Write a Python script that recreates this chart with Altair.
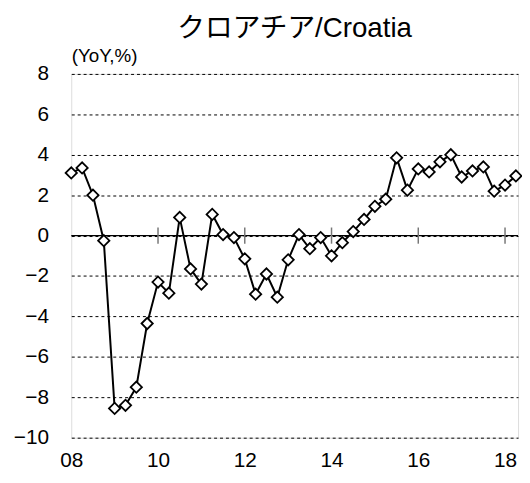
import altair as alt
import pandas as pd

title_text = "クロアチア/Croatia"
y_label = "(YoY,%)"
start_year = 2008
values = [3.1, 3.35, 2.0, -0.25, -8.55, -8.4, -7.5, -4.35, -2.3, -2.85,
          0.9, -1.65, -2.4, 1.05, 0.05, -0.1, -1.15, -2.9, -1.9, -3.05,
          -1.2, 0.05, -0.65, -0.1, -1.0, -0.35, 0.2, 0.8, 1.45, 1.8,
          3.85, 2.25, 3.3, 3.15, 3.65, 4.0, 2.9, 3.2, 3.4, 2.2,
          2.5, 2.95]
x_ticks = [2008, 2010, 2012, 2014, 2016, 2018]
y_ticks = [-10, -8, -6, -4, -2, 0, 2, 4, 6, 8]
inner_ticks = [2010, 2012, 2014, 2016, 2018]

df = pd.DataFrame({"t": [start_year + i * 0.25 for i in range(len(values))],
                   "v": values})
FONT = "Liberation Sans, Arial, Noto Sans CJK JP"

xscale = alt.Scale(domain=[2008, 2018.3], nice=False, zero=False)
yscale = alt.Scale(domain=[-10, 8], nice=False)

xax = alt.Axis(values=x_ticks, labelExpr="substring(toString(datum.value), 2)",
               grid=False, domain=False, ticks=False, labelFontSize=21,
               labelPadding=12, labelColor="black", labelFont=FONT, title=None,
               labelFlush=False)
yax = alt.Axis(values=y_ticks, grid=True, gridDash=[3, 3], gridColor="black",
               gridWidth=1, gridOpacity=1, domain=False, ticks=False,
               labelFontSize=21, labelPadding=23, labelColor="black", labelFont=FONT,
               title=y_label, titleAngle=0, titleAlign="left", titleBaseline="alphabetic",
               titleX=0, titleY=-13, titleFontSize=19, titleFontWeight="normal",
               titleFont=FONT, titleColor="black")

base = alt.Chart(df)
line = base.mark_line(color="black", strokeWidth=2).encode(
    x=alt.X("t:Q", scale=xscale, axis=xax),
    y=alt.Y("v:Q", scale=yscale, axis=yax),
)
pts = base.mark_point(shape="diamond", filled=True, fill="white", stroke="black",
                      strokeWidth=1.8, size=130, opacity=1).encode(
    x=alt.X("t:Q", scale=xscale),
    y=alt.Y("v:Q", scale=yscale),
)
zero = alt.Chart(pd.DataFrame({"z": [0]})).mark_rule(color="black", strokeWidth=1.2).encode(
    y=alt.Y("z:Q", scale=yscale)
)
ticks = alt.Chart(pd.DataFrame({"t": inner_ticks, "lo": [-0.4] * 5, "hi": [0.4] * 5})).mark_rule(
    color="#777777", strokeWidth=1.5).encode(
    x=alt.X("t:Q", scale=xscale),
    y=alt.Y("lo:Q", scale=yscale),
    y2="hi:Q",
)

chart = alt.layer(zero, ticks, line, pts).properties(
    width=452, height=368,
    autosize=alt.AutoSizeParams(type="none"),
    padding={"left": 64, "top": 64, "right": 4, "bottom": 30},
    title=alt.TitleParams(title_text, fontSize=28, font=FONT, fontWeight="normal",
                          color="black", anchor="middle", offset=3),
).configure_view(stroke="black", strokeWidth=2.5).configure(background="white")

chart.save("out.html", embed_options={"renderer": "svg", "actions": False})
